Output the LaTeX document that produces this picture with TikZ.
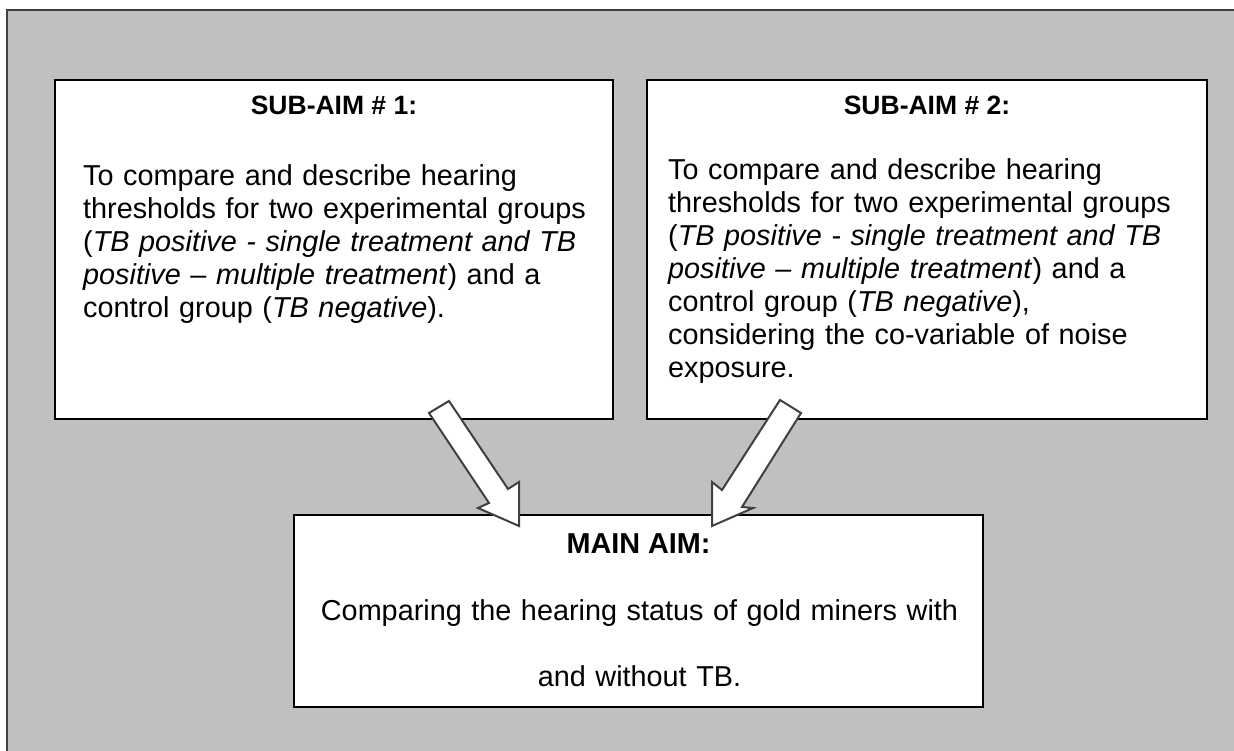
\documentclass[tikz,border=0pt]{standalone}
\usepackage{fontspec}
\setmainfont{Liberation Sans}
\definecolor{panelgray}{HTML}{C0C0C0}
\definecolor{framegray}{HTML}{404040}
\begin{document}
\begin{tikzpicture}[x=1pt,y=-1pt,
  aimbox/.style={draw=black,line width=2pt,fill=white,inner sep=0pt},
  aimtitle/.style={font=\bfseries\fontsize{26.5}{30}\selectfont,inner sep=0pt,anchor=base},
  aimtext/.style={font=\fontsize{28.8}{33}\selectfont,inner sep=0pt,anchor=base west,text width=545pt,align=left},
  blockarrow/.style={draw=framegray,line width=2pt,fill=white,line join=miter}]
\useasboundingbox (0,0) rectangle (1234,751);
\clip (0,0) rectangle (1234,751);
\draw[fill=panelgray,draw=framegray,line width=2pt] (7,10) rectangle (1250,770);
\node[aimbox,minimum width=558pt,minimum height=339pt] (sub1) at (334,249.5) {};
\node[aimbox,minimum width=560pt,minimum height=339pt] (sub2) at (927,249.5) {};
\node[aimbox,minimum width=689pt,minimum height=192pt] (main) at (638.5,611) {};
\node[aimtitle] (sub1title) at (334,115) {SUB-AIM \# 1:};
\node[aimtext] (sub1text) at (83,186) {To compare and describe hearing\\
  thresholds for two experimental groups\\
  (\textit{TB positive - single treatment and TB}\\
  \textit{positive – multiple treatment}) and a\\
  control group (\textit{TB negative}).};
\node[aimtitle] (sub2title) at (927,115) {SUB-AIM \# 2:};
\node[aimtext] (sub2text) at (668,180) {To compare and describe hearing\\
  thresholds for two experimental groups\\
  (\textit{TB positive - single treatment and TB}\\
  \textit{positive – multiple treatment}) and a\\
  control group (\textit{TB negative}),\\
  considering the co-variable of noise\\
  exposure.};
\node[aimtitle,font=\bfseries\fontsize{28.8}{33}\selectfont] (maintitle) at (638.5,553) {MAIN AIM:};
\node[font=\fontsize{28.8}{66}\selectfont,inner sep=0pt,anchor=base,text width=680pt,align=center] (maintext) at (639.5,620)
  {Comparing the hearing status of gold miners with\\and without TB.};
\draw[blockarrow] (429,413) -- (449,401) -- (508,489) -- (519,482) -- (519,526) -- (478,508) -- (489,503) -- cycle;
\draw[blockarrow] (780,400) -- (801,413) -- (742,507) -- (753,508) -- (712,526) -- (712,482) -- (722,490) -- cycle;
\end{tikzpicture}
\end{document}
